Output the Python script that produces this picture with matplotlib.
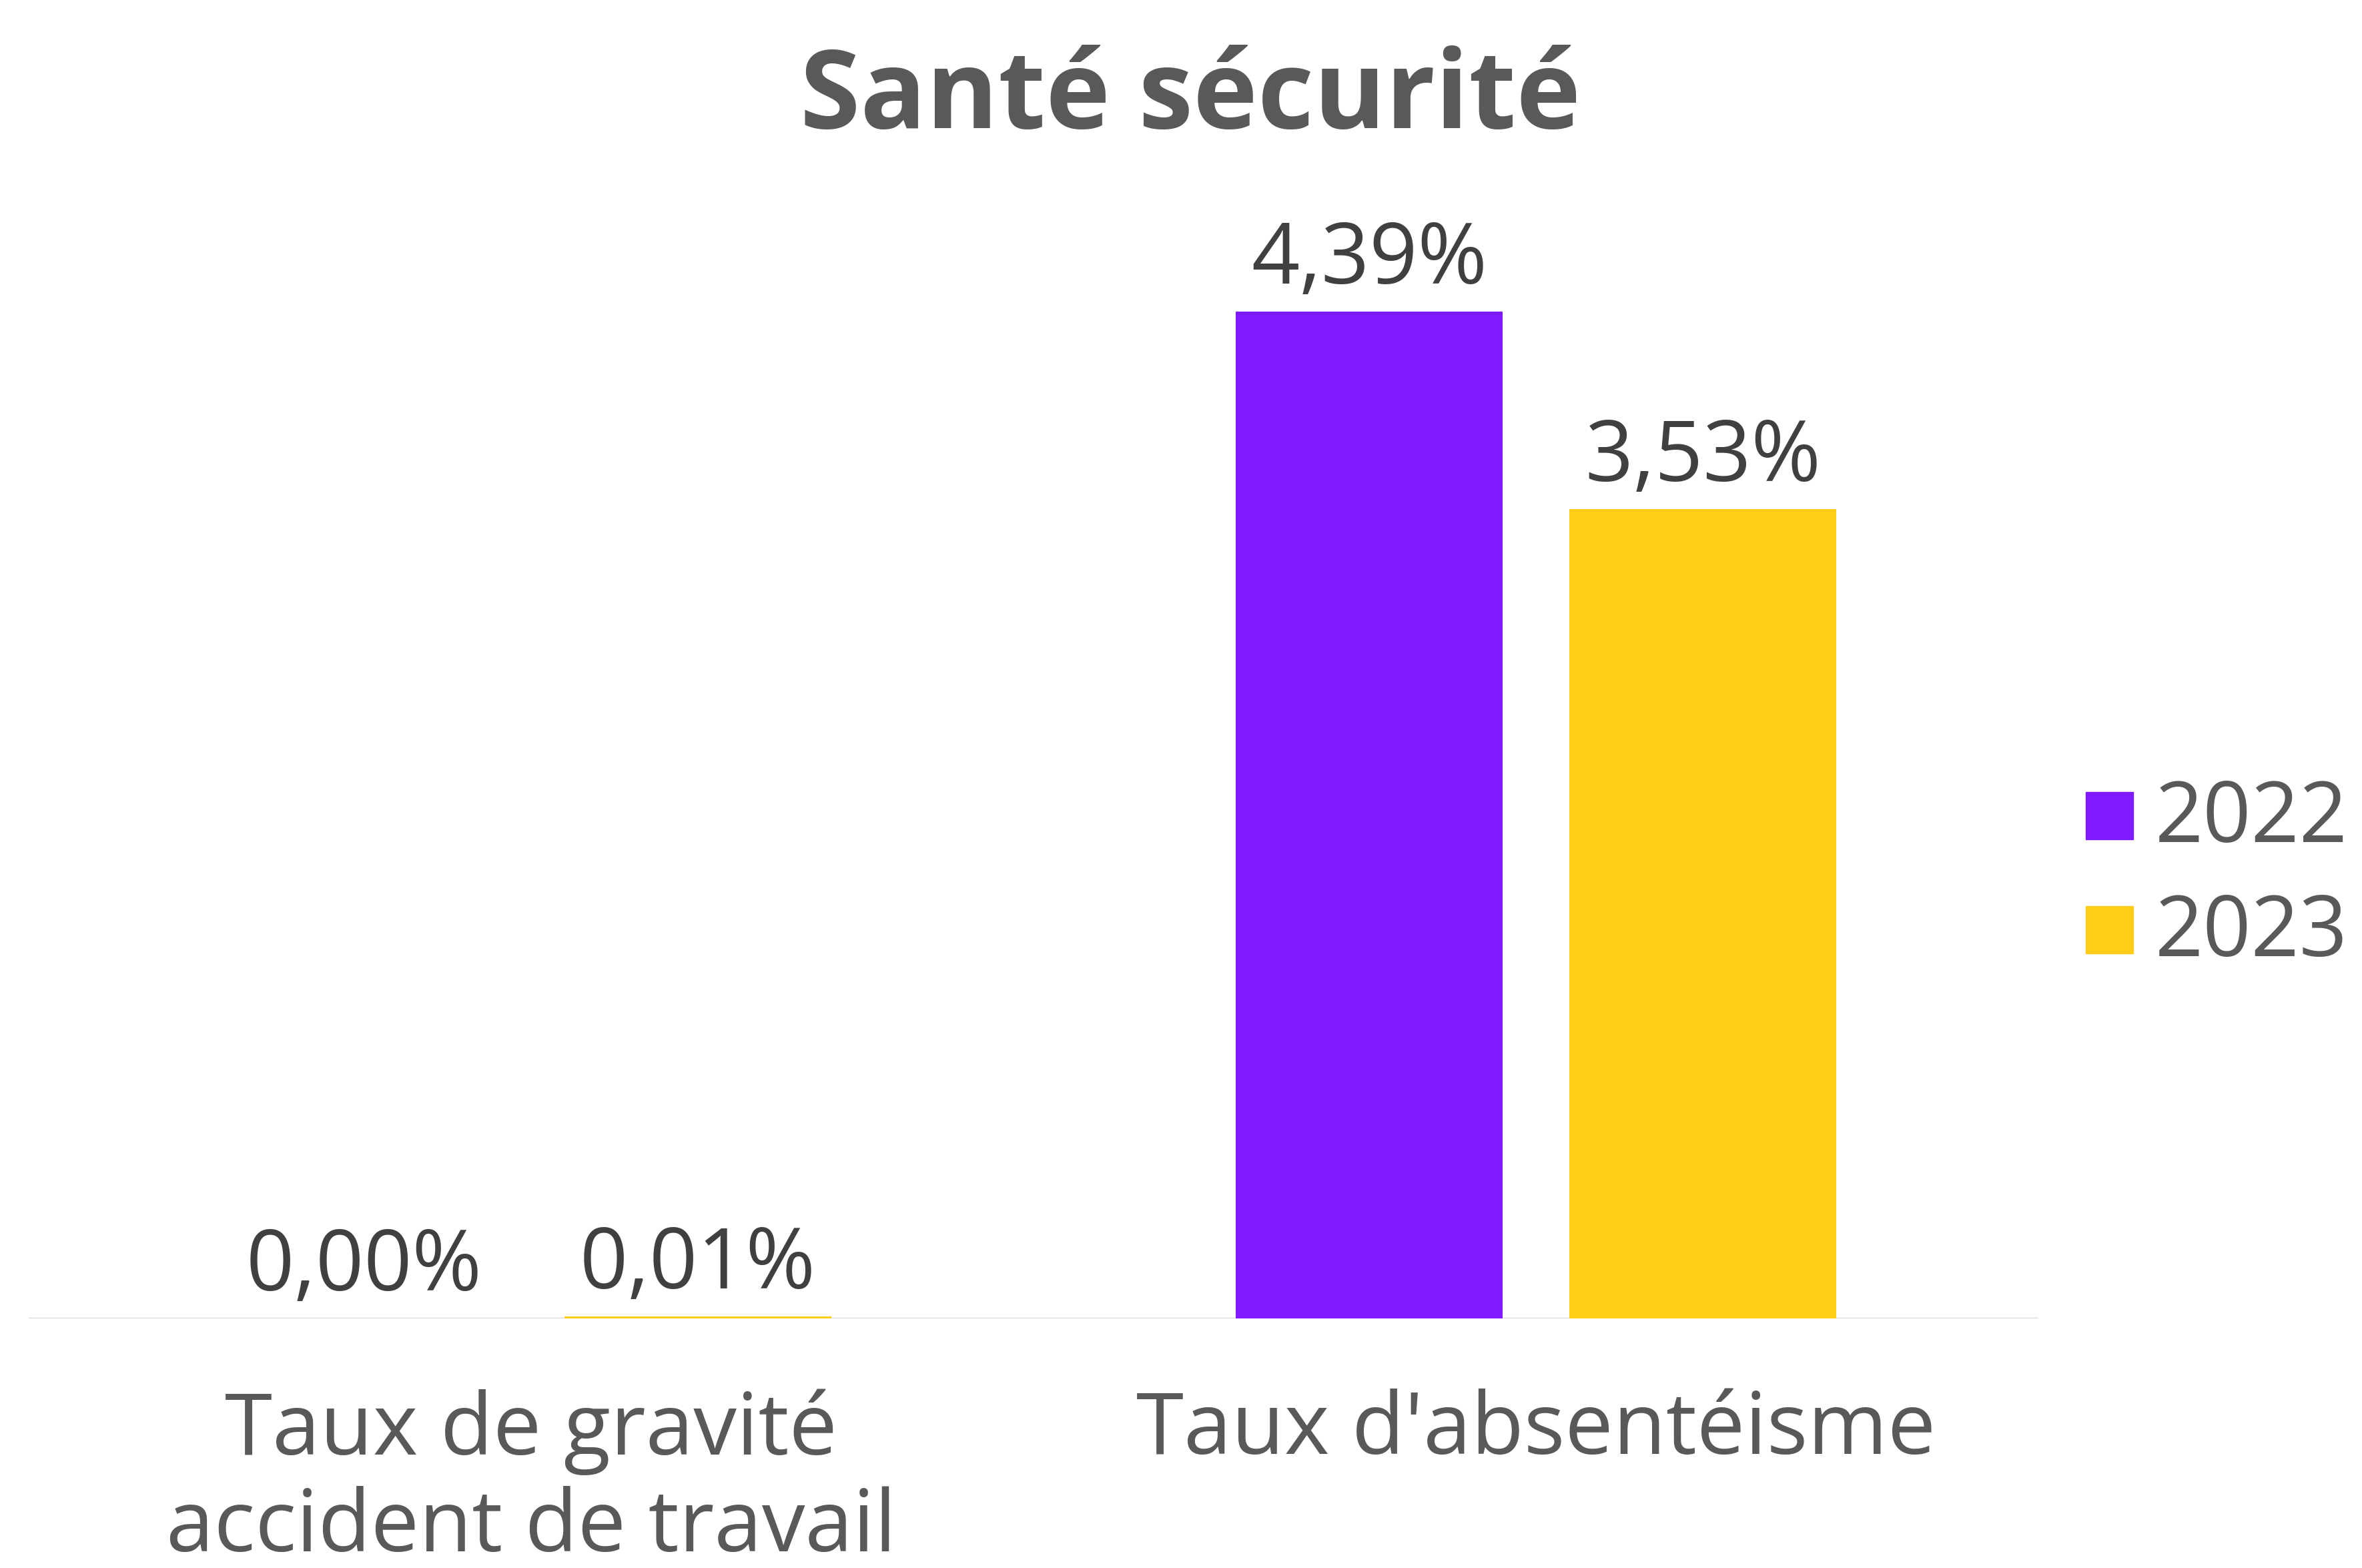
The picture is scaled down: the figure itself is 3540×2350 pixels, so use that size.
import matplotlib

matplotlib.use("Agg")
import matplotlib.pyplot as plt
from matplotlib.patches import Rectangle
import numpy as np

plt.rcParams["font.family"] = ["Open Sans", "DejaVu Sans"]

W, H, DPI = 3541, 2350, 100

categories = ["Taux de gravité\naccident de travail", "Taux d'absentéisme"]
years = ["2022", "2023"]
values_2022 = [0.00, 4.39]
values_2023 = [0.01, 3.53]
labels_2022 = ["0,00%", "4,39%"]
labels_2023 = ["0,01%", "3,53%"]
colors = ["#7F19FF", "#FFCC17"]

fig = plt.figure(figsize=(W / DPI, H / DPI), dpi=DPI)
ax = fig.add_axes([43 / W, 1 - 1976 / H, (3055 - 43) / W, 0.75])

x = np.arange(len(categories))
width, off = 0.265, 0.166
series = [(values_2022, labels_2022), (values_2023, labels_2023)]
for i, (vals, labs) in enumerate(series):
    pos = x + (-off if i == 0 else off)
    ax.bar(pos, vals, width, color=colors[i], zorder=3)
    for px_, v, t in zip(pos, vals, labs):
        ax.annotate(t, (px_, v), xytext=(0, 30), textcoords="offset points",
                    ha="center", va="baseline", fontsize=91, color="#404040")

ax.axhline(0, color="#D9D9D9", lw=2.5, zorder=2)
ax.set_xlim(-0.5, 1.5)
ax.set_ylim(0, 4.39 * 0.75 * H / (1976 - 467))
ax.set_xticks(x)
ax.set_xticklabels(categories, fontsize=93, color="#595959", linespacing=1.17)
ax.tick_params(axis="x", length=0, pad=76)
ax.set_yticks([])
for s in ax.spines.values():
    s.set_visible(False)

fig.text(1784 / W, 1 - 192 / H, "Santé sécurité", ha="center", va="baseline",
         fontsize=118, fontweight="bold", color="#595959")

# legend
sq = 71
for i, (yr, c) in enumerate(zip(years, colors)):
    top = 1187 + i * 171
    fig.patches.append(Rectangle((3126 / W, 1 - (top + sq) / H), sq / W, sq / H,
                                 transform=fig.transFigure, color=c))
    fig.text(3230 / W, 1 - (1262 + i * 171) / H, yr, ha="left", va="baseline",
             fontsize=91, color="#595959")

fig.savefig("out.png", dpi=DPI)
